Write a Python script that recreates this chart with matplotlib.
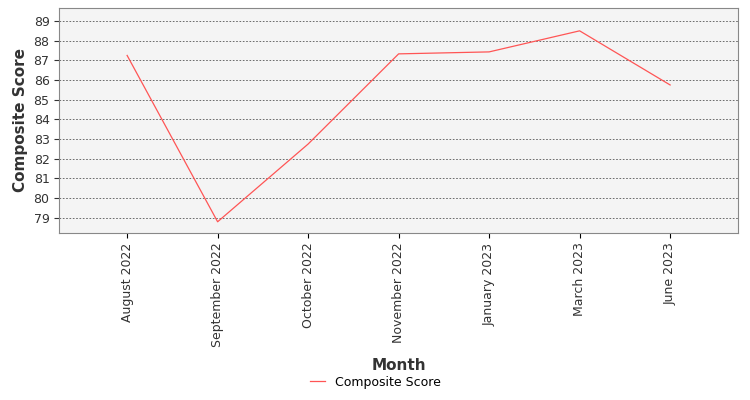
import matplotlib
matplotlib.use('Agg')
import matplotlib.pyplot as plt

months = ['August 2022', 'September 2022', 'October 2022', 'November 2022',
          'January 2023', 'March 2023', 'June 2023']
scores = [87.25, 78.8, 82.75, 87.33, 87.43, 88.5, 85.75]

fig = plt.figure(figsize=(7.5, 4.0), dpi=100)
ax = fig.add_axes([0.079, 0.418, 0.905, 0.562])
ax.set_facecolor('#f4f4f4')
x = list(range(len(months)))
ax.plot(x, scores, color='#ff5555', linewidth=0.9, label='Composite Score')
ax.set_xlim(-0.75, 6.75)
ax.set_ylim(78.24, 89.66)
ax.set_yticks(range(79, 90))
ax.set_xticks(x)
ax.set_xticklabels(months, rotation=90, fontsize=9, color='#333333')
ax.tick_params(axis='y', labelsize=9, colors='#333333')
ax.grid(axis='y', color='#555555', linestyle=(0, (2, 2)), linewidth=0.6)
for s in ax.spines.values():
    s.set_color('#888888')
ax.set_xlabel('Month', fontsize=11, fontweight='bold', color='#333333', labelpad=8)
ax.set_ylabel('Composite Score', fontsize=11, fontweight='bold', color='#333333')
fig.legend(loc='lower center', bbox_to_anchor=(0.5, 0.0), frameon=False, fontsize=9,
           handlelength=1.2)
fig.savefig('out.png')
